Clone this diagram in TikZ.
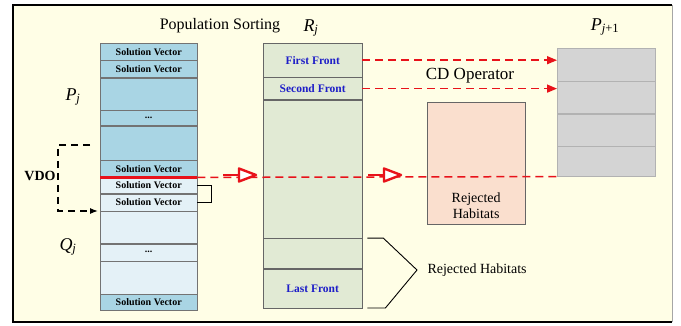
\documentclass[tikz,border=0pt]{standalone}
\usepackage{fontspec}
\setmainfont{Liberation Serif}
\usetikzlibrary{positioning, arrows.meta, calc}

\definecolor{bgcream}{HTML}{FFFEE6}
\definecolor{popblue}{HTML}{A9D5E4}
\definecolor{offblue}{HTML}{E4F1F7}
\definecolor{frontgreen}{HTML}{E1EAD4}
\definecolor{rejpink}{HTML}{FADFCE}
\definecolor{nextgray}{HTML}{D4D4D4}
\definecolor{opred}{HTML}{E8121A}
\definecolor{frontblue}{HTML}{1E1EC8}

\begin{document}
\begin{tikzpicture}[x=1pt, y=-1pt,
	cell/.style={draw=black!55, anchor=north west, inner sep=0, minimum width=97pt, font=\fontsize{10}{10}\selectfont\bfseries},
	pcell/.style={cell, fill=popblue},
	qcell/.style={cell, fill=offblue},
	front/.style={draw=black!60, anchor=north west, inner sep=0, minimum width=99pt, fill=frontgreen, text=frontblue, font=\fontsize{11.5}{11.5}\selectfont\bfseries},
	nextcell/.style={draw=black!30, anchor=north west, inner sep=0, minimum width=98pt, fill=nextgray},
	rejbox/.style={draw=black!60, fill=rejpink, anchor=north west, inner sep=0},
	txt/.style={font=\fontsize{14}{16}\selectfont},
	mathlbl/.style={font=\fontsize{18}{18}\selectfont\itshape},
	reddash/.style={opred, line width=1.5pt, dash pattern=on 8pt off 5pt},
	redshaft/.style={opred, line width=2.6pt},
	redhead/.style={opred, line width=2.4pt, fill=white, line join=round},
	vdodash/.style={line width=1.2pt, dash pattern=on 7pt off 5pt, -{Latex[length=8pt, width=6pt]}}]

	\useasboundingbox (0,0) rectangle (681,326);

	% Background and frame
	\fill[bgcream] (13,5) rectangle (672,322);
	\draw[line width=1.2pt] (672,5) -- (13,5) -- (13,322) -- (672,322);
	\draw[black!35, line width=1pt] (672,5) -- (672,322);

	% P_j / Q_j column
	\node[pcell, minimum height=17pt] (p1) at (100,43) {Solution Vector};
	\node[pcell, minimum height=17pt] (p2) at (p1.south west) {Solution Vector};
	\node[pcell, minimum height=32pt] (p3) at (p2.south west) {};
	\node[pcell, minimum height=15pt] (p4) at (p3.south west) {...};
	\node[pcell, minimum height=34pt] (p5) at (p4.south west) {};
	\node[pcell, minimum height=17pt] (p6) at (p5.south west) {Solution Vector};
	\node[qcell, minimum height=16pt] (q1) at (p6.south west) {Solution Vector};
	\node[qcell, minimum height=17pt] (q2) at (q1.south west) {Solution Vector};
	\node[qcell, minimum height=32pt] (q3) at (q2.south west) {};
	\node[qcell, minimum height=17pt] (q4) at (q3.south west) {...};
	\node[qcell, minimum height=33pt] (q5) at (q4.south west) {};
	\node[pcell, minimum height=16pt] (q6) at (q5.south west) {Solution Vector};

	% R_j column
	\node[front, minimum height=34pt] (r1) at (263,43) {First Front};
	\node[front, minimum height=22pt] (r2) at (r1.south west) {Second Front};
	\node[front, minimum height=138pt] (r3) at (r2.south west) {};
	\node[front, minimum height=30pt] (r4) at (r3.south west) {};
	\node[front, minimum height=39pt] (r5) at (r4.south west) {Last Front};

	% P_{j+1} column
	\node[nextcell, minimum height=33pt] (n1) at (557,48) {};
	\node[nextcell, minimum height=32pt] (n2) at (n1.south west) {};
	\node[nextcell, minimum height=32pt] (n3) at (n2.south west) {};
	\node[nextcell, minimum height=30pt] (n4) at (n3.south west) {};

	% Rejected box
	\node[rejbox, minimum width=98pt, minimum height=122pt] (rej) at (427,102) {};
	\node[txt, align=center, above=2pt of rej.south] (rejtxt) {Rejected\\Habitats};

	% Labels
	\node[txt, font=\fontsize{16}{16}\selectfont] (sorting) at (220,26) {Population Sorting};
	\node[mathlbl] (rlbl) at (311,28) {R\textsubscript{j}};
	\node[mathlbl] (plbl) at (73,97) {P\textsubscript{j}};
	\node[mathlbl] (qlbl) at (68,247) {Q\textsubscript{j}};
	\node[mathlbl] (pnlbl) at (605,27) {P\textsubscript{j\upshape +1}};
	\node[txt, font=\fontsize{17}{17}\selectfont] (cdop) at (470,76) {CD Operator};
	\node[txt, font=\fontsize{14}{14}\selectfont\bfseries] (vdo) at (40,176) {VDO};

	% VDO line
	\draw[opred, line width=2.5pt] (p6.south west) -- (p6.south east);
	\draw[reddash] (p6.south east) -- (n4.south west);
	\coordinate (o1s) at (223,175);
	\coordinate (o1e) at (256,175);
	\coordinate (o2s) at (368,175);
	\coordinate (o2e) at (401,175);
	\draw[redshaft] (o1s) -- ++(16,0);
	\draw[redhead] (o1e) -- ++(-17,-6.5) -- ++(0,13) -- cycle;
	\draw[redshaft] (o2s) -- ++(16,0);
	\draw[redhead] (o2e) -- ++(-17,-6.5) -- ++(0,13) -- cycle;

	% CD operator arrows
	\draw[reddash, -{Triangle[length=10pt, width=8pt]}] (r1.east) -- (r1.east -| n1.west);
	\draw[reddash, -{Triangle[length=10pt, width=8pt]}] (r2.east) -- (r2.east -| n2.west);

	% VDO bracket
	\coordinate (vdotop) at (90,145);
	\coordinate (vdoend) at (98,211);
	\draw[vdodash] (vdotop) -- ++(-32,0) |- (vdoend);
	\draw[line width=0.8pt] (q1.east) -- ++(14,0) |- (q2.east);

	% Rejected habitats brace
	\coordinate (bracetip) at (417,270);
	\draw[line width=0.9pt] ($(r4.north east)+(5,0)$) -- ++(16,0) -- (bracetip) -- ($(r5.south east)+(23,0)$) -- ++(-18,0);
	\node[txt, right=7pt of bracetip] (rejhab) {Rejected Habitats};
\end{tikzpicture}
\end{document}
